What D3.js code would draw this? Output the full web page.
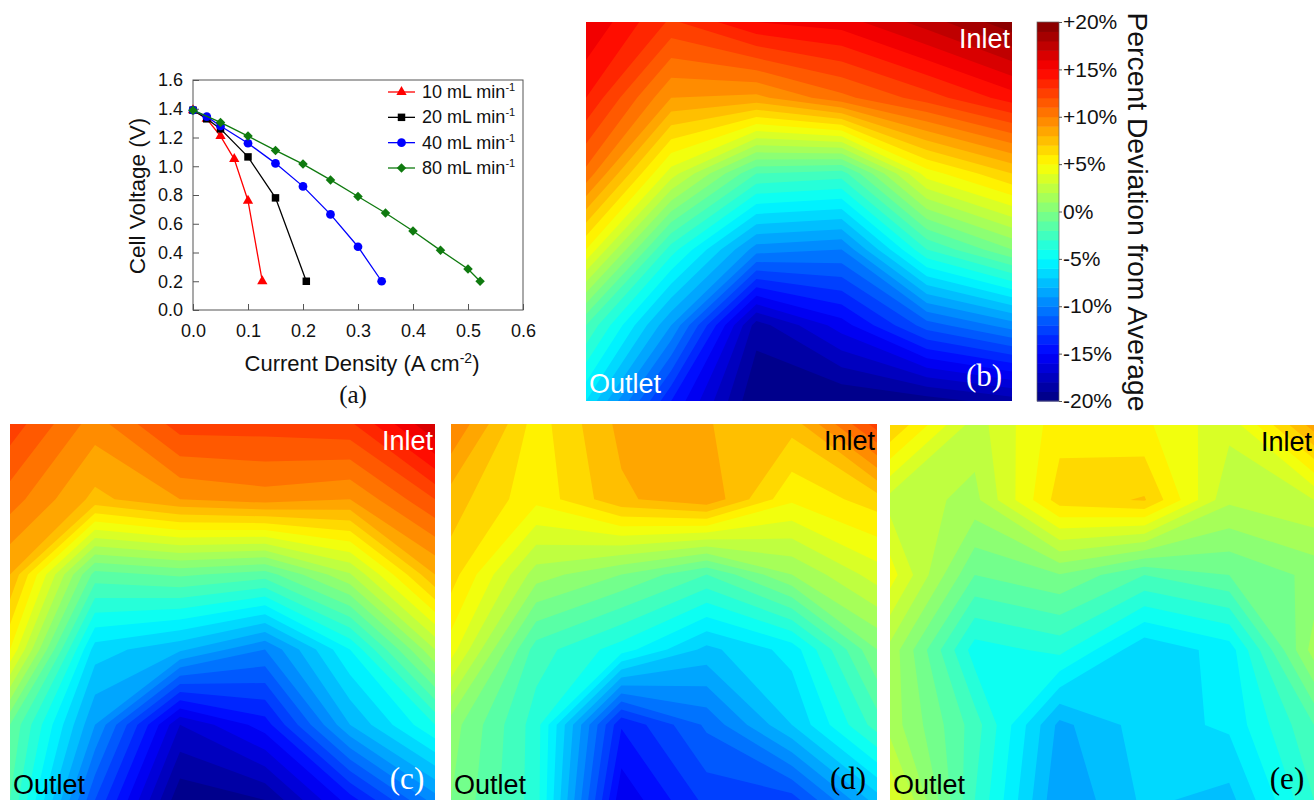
<!DOCTYPE html>
<html>
<head>
<meta charset="utf-8">
<style>
  html, body { margin: 0; padding: 0; background: #fff; }
  svg { display: block; }
  text { font-family: "Liberation Sans", Arial, sans-serif; }
  .serif { font-family: "Liberation Serif", "Times New Roman", serif; }
</style>
</head>
<body>
<div id="chart"></div>
<script src="https://cdn.jsdelivr.net/npm/d3@7"></script>
<script>
// polarization curves, panel (a)
const seriesNames = ['10 mL min', '20 mL min', '40 mL min', '80 mL min'];
const seriesColors = ['#ff0000', '#000000', '#0000ff', '#0f7a0f'];
const current10 = [0, 0.025, 0.05, 0.075, 0.1, 0.126];
const voltage10 = [1.39, 1.33, 1.21, 1.05, 0.76, 0.2];
const current20 = [0, 0.025, 0.05, 0.1, 0.15, 0.206];
const voltage20 = [1.39, 1.33, 1.26, 1.065, 0.78, 0.2];
const current40 = [0, 0.025, 0.05, 0.1, 0.15, 0.2, 0.25, 0.3, 0.343];
const voltage40 = [1.39, 1.345, 1.28, 1.16, 1.02, 0.86, 0.665, 0.44, 0.2];
const current80 = [0, 0.05, 0.1, 0.15, 0.2, 0.25, 0.3, 0.35, 0.4, 0.45, 0.5, 0.522];
const voltage80 = [1.39, 1.305, 1.21, 1.11, 1.015, 0.905, 0.79, 0.675, 0.55, 0.415, 0.285, 0.2];
const xTicks = [0, 0.1, 0.2, 0.3, 0.4, 0.5, 0.6];
const yTicks = [0, 0.2, 0.4, 0.6, 0.8, 1.0, 1.2, 1.4, 1.6];

// percent deviation on the 6x6 measurement grid, top row first
const gridB = [
  16, 12.8, 15, 15.5, 17.5, 19.7,
  14, 9, 8.7, 10.7, 12.5, 14.5,
  10.7, 3.5, -2, -2.5, 4.5, 7,
  5, -3.5, -9.5, -10, -3, 0,
  -2, -9, -18.5, -15.5, -11.5, -9.5,
  -6, -14, -20, -20, -19.5, -18.5,
];
const gridC = [
  12.6, 9.5, 12.5, 12.5, 12.8, 17,
  10.5, 7.7, 9, 9.5, 9, 12,
  8, -1.4, -0.8, -1.5, 1.9, 8,
  5, -6.5, -7.8, -10, -5, 2,
  -1, -9, -17, -14.5, -8, -4,
  -2, -12, -19.8, -19, -14.5, -9.5,
];
const gridD = [
  10, 5.5, 8.3, 8.05, 7.4, 12.5,
  7.5, 5.3, 7.8, 8.8, 5.2, 6.5,
  6.5, 1.5, 0, -2, 1, 3.5,
  4.5, -2.5, -4.5, -7.3, -5.6, 0,
  0.5, -3.5, -13.9, -10.8, -7, -2.5,
  0, -3.5, -15.8, -12.7, -12.5, -7.5,
];
const gridE = [
  7, 2.5, 5.6, 5.2, 3.3, 8.5,
  2.6, 1.7, 6.5, 7.1, 2.2, 3,
  4.5, -1, -0.06, -2, -1, 0.3,
  1.7, -4.5, -3.7, -6.8, -5.55, 1.5,
  1.6, -2.5, -8.3, -6.5, -5.8, -2,
  4, -3, -8.9, -6.8, -7.36, -3,
];
const gridSize = 6;
const levels = d3.range(-20, 20);
const barTicks = [-20, -15, -10, -5, 0, 5, 10, 15, 20];

const jet = d3.scaleLinear()
  .domain([-20, -15, -5, 5, 15, 20])
  .range(['#00007f', '#0000ff', '#00ffff', '#ffff00', '#ff0000', '#7f0000']);

const svg = d3.select('#chart')
  .append('svg')
  .attr('width', 1314)
  .attr('height', 800);

// ---- panel (a)
const plotA = {
  left: 193, right: 523, top: 80, bottom: 310,
};
const xA = d3.scaleLinear().domain([0, 0.6]).range([plotA.left, plotA.right]);
const yA = d3.scaleLinear().domain([0, 1.6]).range([plotA.bottom, plotA.top]);

svg.append('rect')
  .attr('x', plotA.left)
  .attr('y', plotA.top)
  .attr('width', plotA.right - plotA.left)
  .attr('height', plotA.bottom - plotA.top)
  .attr('fill', 'none')
  .attr('stroke', '#555')
  .attr('stroke-width', 1);

const xAxisA = svg.append('g')
  .attr('transform', `translate(0,${plotA.bottom})`)
  .call(d3.axisBottom(xA).tickValues(xTicks).tickFormat(d3.format('.1f')).tickSize(-6).tickPadding(14));
const yAxisA = svg.append('g')
  .attr('transform', `translate(${plotA.left},0)`)
  .call(d3.axisLeft(yA).tickValues(yTicks).tickFormat(d3.format('.1f')).tickSize(-6).tickPadding(10));
[xAxisA, yAxisA].forEach((a) => {
  a.select('.domain').remove();
  a.selectAll('line').attr('stroke', '#555');
  a.selectAll('text').attr('font-size', 18).attr('fill', '#111');
});

const curves = [
  { xs: current10, ys: voltage10, symbol: d3.symbolTriangle, size: 46, rotate: 0 },
  { xs: current20, ys: voltage20, symbol: d3.symbolSquare, size: 56, rotate: 0 },
  { xs: current40, ys: voltage40, symbol: d3.symbolCircle, size: 60, rotate: 0 },
  { xs: current80, ys: voltage80, symbol: d3.symbolSquare, size: 45, rotate: 45 },
];
const line = d3.line().x((d) => xA(d[0])).y((d) => yA(d[1]));

curves.forEach((c, i) => {
  const pts = c.xs.map((x, j) => [x, c.ys[j]]);
  svg.append('path')
    .attr('d', line(pts))
    .attr('fill', 'none')
    .attr('stroke', seriesColors[i])
    .attr('stroke-width', 1.3);
  svg.selectAll(null)
    .data(pts)
    .enter()
    .append('path')
    .attr('d', d3.symbol().type(c.symbol).size(c.size))
    .attr('transform', (d) => `translate(${xA(d[0])},${yA(d[1])}) rotate(${c.rotate})`)
    .attr('fill', seriesColors[i]);
});

// legend
const legendY = d3.scalePoint().domain(seriesNames).range([92, 168]);
seriesNames.forEach((name, i) => {
  const y = legendY(name);
  svg.append('line')
    .attr('x1', 388).attr('x2', 415)
    .attr('y1', y).attr('y2', y)
    .attr('stroke', seriesColors[i])
    .attr('stroke-width', 1.3);
  svg.append('path')
    .attr('d', d3.symbol().type(curves[i].symbol).size(curves[i].size))
    .attr('transform', `translate(401.5,${y}) rotate(${curves[i].rotate})`)
    .attr('fill', seriesColors[i]);
  const t = svg.append('text')
    .attr('x', 422)
    .attr('y', y + 6)
    .attr('font-size', 18)
    .attr('fill', '#111')
    .text(name);
  t.append('tspan').attr('dy', -7).attr('font-size', 11).text('-1');
});

svg.append('text')
  .attr('transform', 'translate(145,196) rotate(-90)')
  .attr('text-anchor', 'middle')
  .attr('font-size', 22.5)
  .attr('fill', '#111')
  .text('Cell Voltage (V)');

const xTitle = svg.append('text')
  .attr('x', 362)
  .attr('y', 371)
  .attr('text-anchor', 'middle')
  .attr('font-size', 22)
  .attr('fill', '#111')
  .text('Current Density (A cm');
xTitle.append('tspan').attr('dy', -8).attr('font-size', 14).text('-2');
xTitle.append('tspan').attr('dy', 8).text(')');

svg.append('text')
  .attr('class', 'serif')
  .attr('x', 353)
  .attr('y', 403)
  .attr('text-anchor', 'middle')
  .attr('font-size', 25)
  .attr('fill', '#111')
  .text('(a)');

// ---- contour panels
const contourGen = d3.contours().size([gridSize, gridSize]).thresholds(levels);

const panels = [
  {
    id: 'b', grid: gridB, x0: 586, x1: 1012, y0: 22, y1: 401,
    inlet: '#fff', outlet: '#fff', tag: '#fff', tagX: 984, tagY: 386,
  },
  {
    id: 'c', grid: gridC, x0: 10, x1: 435, y0: 424, y1: 800,
    inlet: '#fff', outlet: '#000', tag: '#fff', tagX: 407, tagY: 789,
  },
  {
    id: 'd', grid: gridD, x0: 451, x1: 877, y0: 424, y1: 800,
    inlet: '#000', outlet: '#000', tag: '#000', tagX: 848, tagY: 789,
  },
  {
    id: 'e', grid: gridE, x0: 890, x1: 1314, y0: 425, y1: 800,
    inlet: '#000', outlet: '#000', tag: '#000', tagX: 1287, tagY: 789,
  },
];

panels.forEach((p) => {
  // grid values sit at cell centres in d3.contours, so 0.5..5.5 spans the panel
  const x = d3.scaleLinear().domain([0.5, gridSize - 0.5]).range([p.x0, p.x1]);
  const y = d3.scaleLinear().domain([0.5, gridSize - 0.5]).range([p.y0, p.y1]);
  const path = d3.geoPath(d3.geoTransform({
    point(px, py) { this.stream.point(x(px), y(py)); },
  }));

  svg.append('clipPath')
    .attr('id', `clip-${p.id}`)
    .append('rect')
    .attr('x', p.x0)
    .attr('y', p.y0)
    .attr('width', p.x1 - p.x0)
    .attr('height', p.y1 - p.y0);

  const g = svg.append('g')
    .attr('clip-path', `url(#clip-${p.id})`)
    .append('g')
    .style('filter', 'blur(0.7px)');
  g.selectAll('path')
    .data(contourGen(p.grid))
    .enter()
    .append('path')
    .attr('d', path)
    .attr('fill', (d) => jet(d.value + 0.5));

  svg.append('text')
    .attr('x', p.x1 - 2)
    .attr('y', p.y0 + 26)
    .attr('text-anchor', 'end')
    .attr('font-size', 27)
    .attr('fill', p.inlet)
    .text('Inlet');
  svg.append('text')
    .attr('x', p.x0 + 3)
    .attr('y', p.y1 - (p.id === 'b' ? 8 : 6.5))
    .attr('font-size', 27)
    .attr('fill', p.outlet)
    .text('Outlet');
  svg.append('text')
    .attr('class', 'serif')
    .attr('x', p.tagX)
    .attr('y', p.tagY)
    .attr('text-anchor', 'middle')
    .attr('font-size', 31)
    .attr('fill', p.tag)
    .text(`(${p.id})`);
});

// ---- colour bar
const barX = 1037;
const barW = 22;
const barY = d3.scaleLinear().domain([-20, 20]).range([401, 22]);

svg.append('g')
  .selectAll('rect')
  .data(levels)
  .enter()
  .append('rect')
  .attr('x', barX)
  .attr('y', (d) => barY(d + 1))
  .attr('width', barW)
  .attr('height', (d) => barY(d) - barY(d + 1) + 0.5)
  .attr('fill', (d) => jet(d + 0.5));

svg.append('rect')
  .attr('x', barX)
  .attr('y', barY(20))
  .attr('width', barW)
  .attr('height', barY(-20) - barY(20))
  .attr('fill', 'none')
  .attr('stroke', '#666')
  .attr('stroke-width', 0.7);

const barAxis = svg.append('g')
  .attr('transform', `translate(${barX + barW},0)`)
  .call(d3.axisRight(barY)
    .tickValues(barTicks)
    .tickFormat((d) => `${d > 0 ? '+' : ''}${d}%`)
    .tickSize(3)
    .tickPadding(1));
barAxis.select('.domain').remove();
barAxis.selectAll('line').attr('stroke', '#555');
barAxis.selectAll('text').attr('font-size', 21).attr('fill', '#111');

svg.append('text')
  .attr('transform', 'translate(1128,212) rotate(90)')
  .attr('text-anchor', 'middle')
  .attr('font-size', 28.3)
  .attr('fill', '#111')
  .text('Percent Deviation from Average');
</script>
</body>
</html>
